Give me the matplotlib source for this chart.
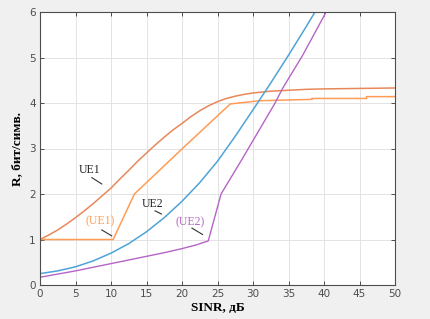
import matplotlib
matplotlib.use("Agg")
import matplotlib.pyplot as plt

# UE1 (Shannon-like bound)
ue1_x = [0, 1.25, 2.5, 3.75, 5, 6.25, 7.5, 8.75, 10, 11.25, 12.5, 13.75, 15, 16.25, 17.5,
         18.75, 20, 21.25, 22.5, 23.75, 25, 26.25, 27.5, 28.75, 30, 32.5, 35, 37.5, 40, 45, 50]
ue1_y = [1.0, 1.10, 1.21, 1.34, 1.48, 1.63, 1.79, 1.96, 2.13, 2.33, 2.52, 2.72, 2.90, 3.08, 3.25,
         3.41, 3.55, 3.70, 3.83, 3.94, 4.03, 4.10, 4.15, 4.19, 4.22, 4.26, 4.28, 4.30, 4.31, 4.32, 4.33]

# (UE1) adaptive modulation
ue1a_x = [0, 10.3, 13.3, 20.2, 26.8, 31, 38.3, 38.3, 46, 46, 50]
ue1a_y = [1.0, 1.0, 2.0, 3.02, 3.98, 4.05, 4.08, 4.10, 4.10, 4.14, 4.14]

# UE2
ue2_x = [0, 2.5, 5, 7.5, 10, 12.5, 15, 17.5, 20, 22.5, 25, 27.5, 30, 32.5, 35, 37.5, 40]
ue2_y = [0.25, 0.31, 0.40, 0.53, 0.70, 0.91, 1.17, 1.48, 1.84, 2.25, 2.72, 3.27, 3.85, 4.44, 5.05, 5.68, 6.33]

# (UE2)
ue2a_x = [0, 2.5, 5, 7.5, 10, 12.5, 15, 17.5, 20, 22, 23.7, 25.5, 28.4, 33, 34.2, 37, 40.3, 41]
ue2a_y = [0.17, 0.24, 0.31, 0.39, 0.47, 0.55, 0.63, 0.71, 0.80, 0.88, 0.97, 2.0, 2.75, 3.97, 4.33, 5.05, 6.0, 6.2]

xticks = [0, 5, 10, 15, 20, 25, 30, 35, 40, 45, 50]
yticks = [0, 1, 2, 3, 4, 5, 6]

c_ue1 = '#E8885A'
c_ue1a = '#FF9C55'
c_ue2 = '#4FA3D8'
c_ue2a = '#B565C5'

fig = plt.figure(figsize=(4.30, 3.19), dpi=100, facecolor='#f0f0f0')
ax = fig.add_axes([40/430, 1-285/319, 355/430, 273/319])
ax.set_facecolor('white')

ax.plot(ue1_x, ue1_y, color=c_ue1, lw=1.1)
ax.plot(ue1a_x, ue1a_y, color=c_ue1a, lw=1.1)
ax.plot(ue2_x, ue2_y, color=c_ue2, lw=1.1)
ax.plot(ue2a_x, ue2a_y, color=c_ue2a, lw=1.0)

ax.set_xlim(0, 50)
ax.set_ylim(0, 6)
ax.set_xticks(xticks)
ax.set_yticks(yticks)
ax.grid(True, color='#e3e3e3', lw=0.7)
ax.set_axisbelow(True)
ax.tick_params(direction='in', length=3, width=0.7, colors='#4d4d4d',
               labelsize=7.5, top=True, right=True, pad=3)
for sp in ax.spines.values():
    sp.set_color('#4d4d4d')
    sp.set_linewidth(0.8)

serif = ['Liberation Serif', 'DejaVu Serif']
ax.set_xlabel('SINR, дБ', family=serif, fontweight='bold', fontsize=9.5, labelpad=2)
ax.set_ylabel('R, бит/симв.', family=serif, fontweight='bold', fontsize=9.5, labelpad=4)

# annotations
def label(txt, tx, ty, x0, y0, x1, y1, color):
    ax.text(tx, ty, txt, family=serif, fontsize=8.5, color=color, ha='center', va='center')
    ax.plot([x0, x1], [y0, y1], color='#333333', lw=0.8)

label('UE1', 7.0, 2.53, 7.3, 2.36, 8.7, 2.22, '#222222')
label('(UE1)', 8.45, 1.39, 8.7, 1.21, 10.1, 1.08, c_ue1a)
label('UE2', 15.9, 1.78, 16.2, 1.63, 17.1, 1.56, '#222222')
label('(UE2)', 21.1, 1.37, 21.4, 1.25, 22.9, 1.11, c_ue2a)

fig.savefig('out.png', dpi=100, facecolor=fig.get_facecolor())
